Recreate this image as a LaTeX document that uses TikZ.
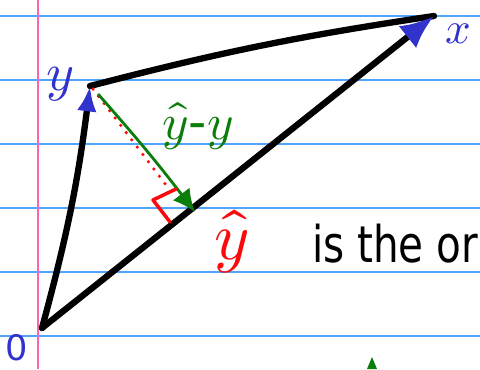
\documentclass[tikz,border=0pt]{standalone}
\usepackage{fontspec}
\usepackage{unicode-math}
\setmainfont{DejaVu Sans}
\setmathfont{Latin Modern Math}
\usetikzlibrary{arrows.meta}
\definecolor{ruleblue}{RGB}{80,165,250}
\definecolor{marginpink}{RGB}{250,100,180}
\definecolor{inkblue}{RGB}{50,50,205}
\definecolor{inkgreen}{RGB}{10,125,10}
\definecolor{inkred}{RGB}{250,10,10}

\begin{document}
\begin{tikzpicture}[x=0.025cm,y=-0.025cm,>=Latex,
  ruled/.style={ruleblue,line width=1pt},
  pen/.style={line width=4.5pt,line cap=round,line join=round},
  every node/.style={inner sep=0pt}]
  \useasboundingbox (0,0) rectangle (480,369);
  % notebook paper
  \foreach \k in {16,80,144,208,272,336}
    \draw[ruled] (0,\k) -- (480,\k);
  \draw[marginpink,line width=1pt] (38,0) -- (38,369);
  % points
  \coordinate (O) at (42,328);
  \coordinate (X) at (434,16);
  \coordinate (Y) at (90,86);
  \coordinate (P) at (195,212);
  \coordinate (gs) at (98,94);
  \coordinate (rs) at (93,89);
  \coordinate (re) at (166,185);
  % triangle
  \draw[pen] (Y) to[bend left=3] (X);
  \draw[pen,-{Latex[length=24pt,width=20pt,color=inkblue]}] (O) -- (X);
  \draw[pen,-{Latex[length=18pt,width=14pt,color=inkblue]}] (O) to[bend right=4] (Y);
  % error vector
  \draw[inkred,line width=2.5pt,line cap=round,dash pattern=on 0pt off 6.5pt] (rs) -- (re);
  \draw[inkgreen,line width=2pt,-{Latex[length=16pt,width=15pt]}] (gs) to[bend left=2] (P);
  \draw[inkred,line width=2.5pt,line cap=round,line join=round] (176,189) -- (153,200) -- (170,222);
  % labels
  \node[inkblue,font=\fontsize{38}{38}\selectfont] (ylab) at (60,84) {$y$};
  \node[inkblue,font=\fontsize{32}{32}\selectfont] (xlab) at (458,34) {$x$};
  \node[inkblue,font=\fontsize{25}{25}\selectfont] (olab) at (17,348) {0};
  \node[inkgreen,font=\fontsize{36}{36}\selectfont] (elab) at (198,126) {$\hat{y}$-$y$};
  \node[inkred,font=\fontsize{48}{48}\selectfont] (yhat) at (232,242) {$\hat{y}$};
  \node[anchor=base west,xscale=0.8,font=\fontsize{36}{36}\selectfont] (note) at (312,262) {is the or};
  \fill[inkgreen] (367,369) -- (372,357) -- (377,369) -- cycle;
\end{tikzpicture}
\end{document}
